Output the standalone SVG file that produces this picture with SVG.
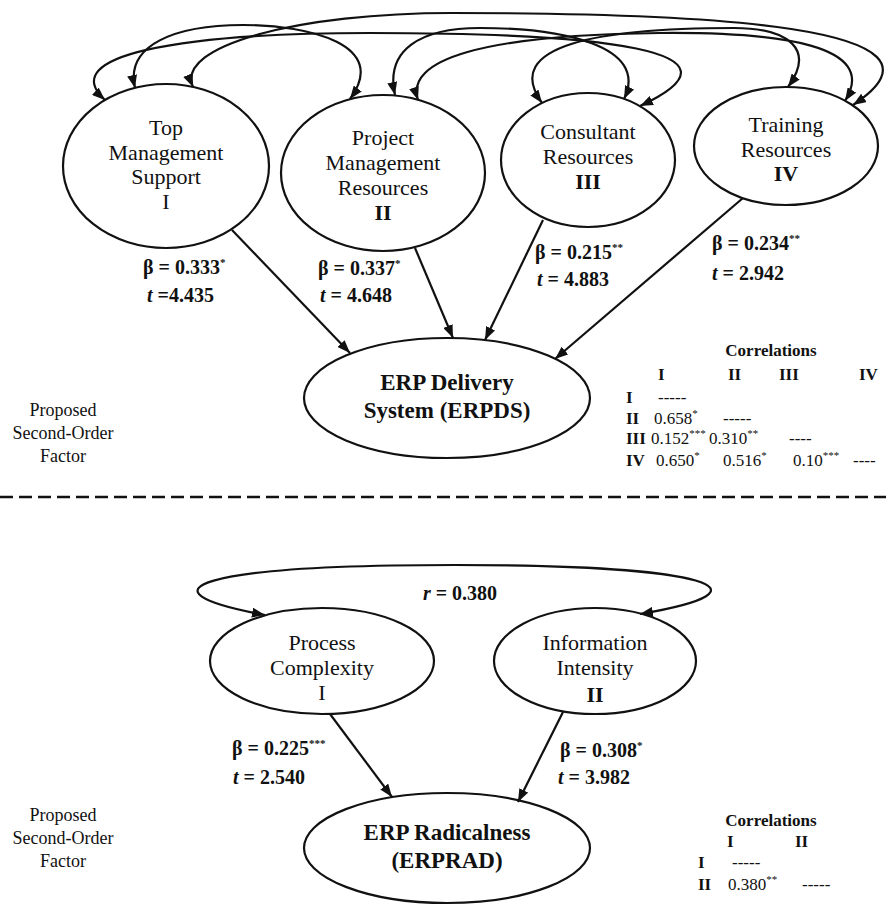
<svg xmlns="http://www.w3.org/2000/svg" width="886" height="906" viewBox="0 0 886 906">
<defs>
<marker id="ah" markerUnits="userSpaceOnUse" markerWidth="14" markerHeight="10" refX="13" refY="5" orient="auto-start-reverse">
<path d="M0,0 L13,5 L0,10 Z" fill="#111"/>
</marker>
<style>
.e{fill:none;stroke:#111;stroke-width:2.2}
.c{fill:none;stroke:#111;stroke-width:2.2}
.t{font-family:"Liberation Serif","Times New Roman",serif;fill:#111}
.n{font-size:22px;text-anchor:middle}
.big{font-size:23px;font-weight:bold;text-anchor:middle}
.beta{font-size:20px;font-weight:bold}
.side{font-size:18px;text-anchor:middle}
.tab{font-size:17px}
.tb{font-size:17px;font-weight:bold}
.ttl{font-size:17px;font-weight:bold}
.sup{font-size:11px}
</style>
</defs>
<rect width="886" height="906" fill="#fff"/>

<g id="connectors">
<path class="c" marker-start="url(#ah)" marker-end="url(#ah)" d="M135,88 C125,45 175,25 243,25 C310,25 390,45 350,99"/>
<path class="c" marker-start="url(#ah)" marker-end="url(#ah)" d="M193,87 C175,45 300,13 452,13 C700,13 975,25 853,105"/>
<path class="c" marker-start="url(#ah)" marker-end="url(#ah)" d="M105,100 C55,55 180,33 370,33 C600,33 760,50 640,106"/>
<path class="c" marker-start="url(#ah)" marker-end="url(#ah)" d="M395,95 C385,50 420,28 480,28 C560,28 650,45 624,99"/>
<path class="c" marker-start="url(#ah)" marker-end="url(#ah)" d="M418,100 C405,60 480,35 660,33 C780,32 880,45 845,101"/>
<path class="c" marker-start="url(#ah)" marker-end="url(#ah)" d="M542,103 C500,45 600,28 734,28 C790,28 815,50 788,87"/>
<line class="c" x1="232" y1="230" x2="350" y2="353" marker-end="url(#ah)"/>
<line class="c" x1="415" y1="248" x2="453" y2="338" marker-end="url(#ah)"/>
<line class="c" x1="543" y1="220" x2="485" y2="340" marker-end="url(#ah)"/>
<line class="c" x1="743" y1="198" x2="555" y2="359" marker-end="url(#ah)"/>
<path class="c" marker-start="url(#ah)" marker-end="url(#ah)" d="M265,615 C130,590 200,565 455,565 C710,565 780,590 640,614"/>
<line class="c" x1="330" y1="714" x2="392" y2="797" marker-end="url(#ah)"/>
<line class="c" x1="563" y1="712" x2="518" y2="802" marker-end="url(#ah)"/>
</g>

<g id="tms">
<ellipse class="e" cx="166" cy="166" rx="103" ry="82"/>
<text class="t n" x="166" y="135">Top</text>
<text class="t n" x="166" y="160">Management</text>
<text class="t n" x="166" y="184">Support</text>
<text class="t n" x="166" y="209">I</text>
</g>
<g id="pmr">
<ellipse class="e" cx="383" cy="173" rx="102" ry="78"/>
<text class="t n" x="383" y="145">Project</text>
<text class="t n" x="383" y="170">Management</text>
<text class="t n" x="383" y="195">Resources</text>
<text class="t n" x="383" y="220" font-weight="bold">II</text>
</g>
<g id="cr">
<ellipse class="e" cx="588" cy="160" rx="87" ry="67"/>
<text class="t n" x="588" y="139">Consultant</text>
<text class="t n" x="588" y="164">Resources</text>
<text class="t n" x="588" y="189" font-weight="bold">III</text>
</g>
<g id="tr">
<ellipse class="e" cx="786" cy="146" rx="92" ry="59"/>
<text class="t n" x="786" y="132">Training</text>
<text class="t n" x="786" y="157">Resources</text>
<text class="t n" x="786" y="181" font-weight="bold">IV</text>
</g>
<g id="erpds">
<ellipse class="e" cx="447" cy="398" rx="143" ry="60"/>
<text class="t big" x="447" y="390">ERP Delivery</text>
<text class="t big" x="447" y="418">System (ERPDS)</text>
</g>

<g id="labels-top">
<text class="t beta" x="143" y="274">β = 0.333<tspan class="sup" dy="-8">*</tspan></text>
<text class="t beta" x="147" y="302"><tspan font-style="italic">t</tspan> =4.435</text>
<text class="t beta" x="318" y="275">β = 0.337<tspan class="sup" dy="-8">*</tspan></text>
<text class="t beta" x="320" y="302"><tspan font-style="italic">t</tspan> = 4.648</text>
<text class="t beta" x="535" y="259">β = 0.215<tspan class="sup" dy="-8">**</tspan></text>
<text class="t beta" x="537" y="286"><tspan font-style="italic">t</tspan> = 4.883</text>
<text class="t beta" x="712" y="250">β = 0.234<tspan class="sup" dy="-8">**</tspan></text>
<text class="t beta" x="712" y="280"><tspan font-style="italic">t</tspan> = 2.942</text>
</g>

<g id="side-top">
<text class="t side" x="63" y="416">Proposed</text>
<text class="t side" x="63" y="439">Second-Order</text>
<text class="t side" x="63" y="462">Factor</text>
</g>

<g id="corr-top">
<text class="t ttl" x="771" y="356" text-anchor="middle">Correlations</text>
<text class="t tb" x="658" y="380">I</text>
<text class="t tb" x="728" y="380">II</text>
<text class="t tb" x="779" y="380">III</text>
<text class="t tb" x="859" y="380">IV</text>
<text class="t tb" x="626" y="403">I</text>
<text class="t tab" x="658" y="403">-----</text>
<text class="t tb" x="626" y="424">II</text>
<text class="t tab" x="654" y="424">0.658<tspan class="sup" dy="-7">*</tspan></text>
<text class="t tab" x="723" y="424">-----</text>
<text class="t tb" x="626" y="444">III</text>
<text class="t tab" x="651" y="444">0.152<tspan class="sup" dy="-7">***</tspan></text>
<text class="t tab" x="709" y="444">0.310<tspan class="sup" dy="-7">**</tspan></text>
<text class="t tab" x="789" y="444">----</text>
<text class="t tb" x="626" y="466">IV</text>
<text class="t tab" x="656" y="466">0.650<tspan class="sup" dy="-7">*</tspan></text>
<text class="t tab" x="723" y="466">0.516<tspan class="sup" dy="-7">*</tspan></text>
<text class="t tab" x="793" y="466">0.10<tspan class="sup" dy="-7">***</tspan></text>
<text class="t tab" x="853" y="466">----</text>
</g>

<line x1="0" y1="497" x2="886" y2="497" stroke="#111" stroke-width="2.5" stroke-dasharray="13 6"/>

<g id="pc">
<ellipse class="e" cx="322" cy="661" rx="112" ry="53"/>
<text class="t n" x="322" y="650">Process</text>
<text class="t n" x="322" y="675">Complexity</text>
<text class="t n" x="322" y="700">I</text>
</g>
<g id="ii">
<ellipse class="e" cx="595" cy="661" rx="101" ry="53"/>
<text class="t n" x="595" y="650">Information</text>
<text class="t n" x="595" y="675">Intensity</text>
<text class="t n" x="595" y="702" font-weight="bold">II</text>
</g>
<g id="erprad">
<ellipse class="e" cx="447" cy="848" rx="143" ry="55"/>
<text class="t big" x="447" y="840">ERP Radicalness</text>
<text class="t big" x="447" y="868">(ERPRAD)</text>
</g>

<g id="labels-bottom">
<text class="t beta" x="460" y="600" text-anchor="middle"><tspan font-style="italic">r</tspan> = 0.380</text>
<text class="t beta" x="232" y="755">β = 0.225<tspan class="sup" dy="-8">***</tspan></text>
<text class="t beta" x="233" y="784"><tspan font-style="italic">t</tspan> = 2.540</text>
<text class="t beta" x="560" y="757">β = 0.308<tspan class="sup" dy="-8">*</tspan></text>
<text class="t beta" x="558" y="784"><tspan font-style="italic">t</tspan> = 3.982</text>
</g>

<g id="side-bottom">
<text class="t side" x="63" y="821">Proposed</text>
<text class="t side" x="63" y="844">Second-Order</text>
<text class="t side" x="63" y="867">Factor</text>
</g>

<g id="corr-bottom">
<text class="t ttl" x="771" y="826" text-anchor="middle">Correlations</text>
<text class="t tb" x="727" y="847">I</text>
<text class="t tb" x="795" y="847">II</text>
<text class="t tb" x="698" y="868">I</text>
<text class="t tab" x="732" y="868">-----</text>
<text class="t tb" x="698" y="890">II</text>
<text class="t tab" x="728" y="890">0.380<tspan class="sup" dy="-7">**</tspan></text>
<text class="t tab" x="802" y="890">-----</text>
</g>
</svg>
